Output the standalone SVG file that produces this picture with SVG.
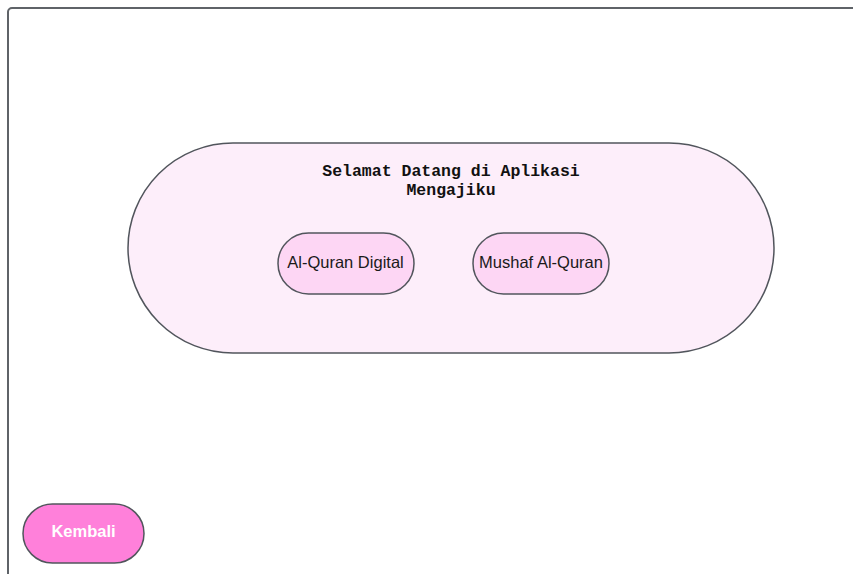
<svg xmlns="http://www.w3.org/2000/svg" width="853" height="574" viewBox="0 0 853 574">
<style>
.pill{stroke:#51555c;stroke-width:1.5}
.lbl{font-family:"Liberation Sans",Arial,sans-serif;font-size:16.5px;fill:#1a1a1a;text-anchor:middle}
.title{font-family:"Liberation Mono","Courier New",monospace;font-size:16.5px;font-weight:bold;fill:#111;text-anchor:middle}
</style>
<rect width="853" height="574" fill="#ffffff"/>
<g id="frame">
<rect x="8" y="8" width="860" height="580" rx="4" fill="none" stroke="#5f6368" stroke-width="2"/>
</g>
<g id="welcome">
<rect class="pill" x="128" y="143" width="646" height="210" rx="105" fill="#fdeefa"/>
<text class="title" x="451" y="176">Selamat Datang di Aplikasi</text>
<text class="title" x="451" y="195">Mengajiku</text>
</g>
<g id="alquran-digital">
<rect class="pill" x="278" y="233" width="136" height="61" rx="30.5" fill="#fdd6f4"/>
<text class="lbl" x="345.5" y="267.5">Al-Quran Digital</text>
</g>
<g id="mushaf">
<rect class="pill" x="473" y="233" width="136" height="61" rx="30.5" fill="#fdd6f4"/>
<text class="lbl" x="541" y="267.5">Mushaf Al-Quran</text>
</g>
<g id="kembali">
<rect class="pill" x="23" y="504" width="121" height="59" rx="29.5" fill="#ff80da"/>
<text class="lbl" x="83.5" y="537" style="fill:#ffffff;font-weight:bold">Kembali</text>
</g>
<g id="connectors"></g>
</svg>
